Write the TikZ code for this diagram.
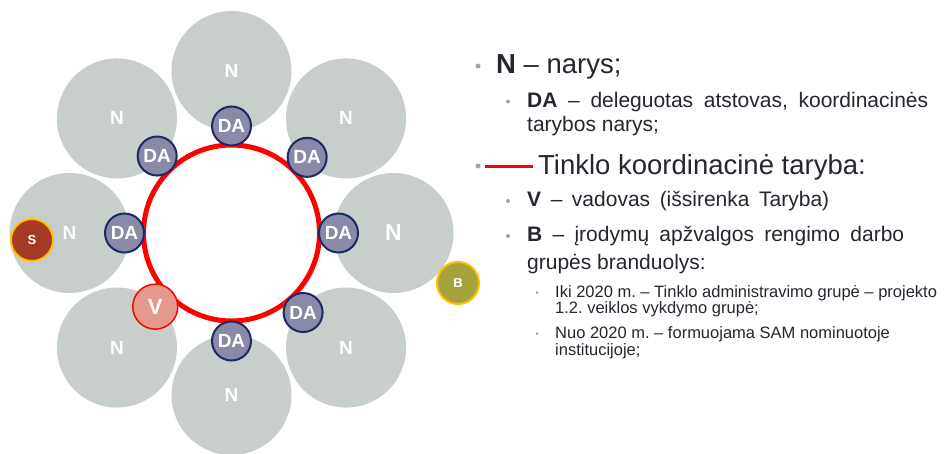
\documentclass[tikz,border=0pt]{standalone}
\usepackage{fontspec}
\setmainfont{Liberation Sans}
\frenchspacing
\definecolor{ngray}{RGB}{200,206,201}
\definecolor{dafill}{RGB}{138,138,168}
\definecolor{danavy}{RGB}{28,42,98}
\definecolor{vfill}{RGB}{227,154,140}
\definecolor{sfill}{RGB}{163,58,35}
\definecolor{bfill}{RGB}{166,163,60}
\definecolor{gold}{RGB}{255,192,0}
\definecolor{txt}{RGB}{38,38,48}
\definecolor{dotgray}{RGB}{155,168,155}
\begin{document}
\begin{tikzpicture}[x=1pt,y=1pt]
  \tikzstyle{member}=[circle,fill=ngray,minimum size=120pt,inner sep=0pt,text=white,font=\bfseries\fontsize{19}{19}\selectfont]
  \tikzstyle{delegate}=[circle,fill=dafill,draw=danavy,line width=2pt,minimum size=39pt,inner sep=0pt,text=white,font=\bfseries\fontsize{19}{19}\selectfont]
  \tikzstyle{leader}=[circle,fill=vfill,draw=red,line width=1.5pt,minimum size=45pt,inner sep=0pt,text=white,font=\bfseries\fontsize{22}{22}\selectfont]
  \tikzstyle{core}=[circle,draw=gold,line width=2pt,minimum size=42pt,inner sep=0pt,text=white,font=\bfseries\fontsize{13}{13}\selectfont]
  \tikzstyle{head}=[anchor=base west,inner sep=0pt,text=txt,font=\fontsize{27.5}{33}\selectfont]
  \tikzstyle{sub}=[anchor=base west,inner sep=0pt,text=txt,font=\fontsize{21}{25}\selectfont]
  \tikzstyle{subsub}=[anchor=base west,inner sep=0pt,text=txt,font=\fontsize{16.5}{19}\selectfont]
  \tikzstyle{dot}=[circle,fill=dotgray,inner sep=0pt]
  \path[use as bounding box,fill=white] (-231.5,-220) rectangle (713.5,233);
  % members
  \node[member] (NT)  at (90:162)  {N};
  \node[member] (NTR) at (45:162)  {N};
  \node[member] (NR)  at (0:162)   {\fontsize{23}{23}\selectfont N};
  \node[member] (NBR) at (-45:162) {N};
  \node[member] (NB)  at (-90:162) {N};
  \node[member] (NBL) at (-135:162) {N};
  \node[member] (NL)  at (180:162) {N};
  \node[member] (NTL) at (135:162) {N};
  % council
  \node[circle,draw=red,line width=5pt,minimum size=176pt] (ring) at (0,0) {};
  \node[delegate] (DAT)  at (90:107)  {DA};
  \node[delegate] (DATR) at (45:107)  {DA};
  \node[delegate] (DAR)  at (0:107)   {DA};
  \node[delegate] (DABR) at (-48:107) {DA};
  \node[delegate] (DAB)  at (-90:108) {DA};
  \node[delegate] (DAL)  at (180:107) {DA};
  \node[delegate] (DATL) at (134:107) {DA};
  \node[leader] (V) at (-136:106) {V};
  % core groups
  \node[core,fill=sfill] (S) at (-199.5,-7) {S};
  \node[core,fill=bfill] (B) at (226.5,-50) {B};
  % legend
  \node[dot,minimum size=5pt] (dotN) at (246.5,167) {};
  \node[head] (narys) at (264.5,160) {\textbf{N} – narys;};
  \node[dot,minimum size=4pt] (dotDA) at (276.5,131.5) {};
  \node[sub] (deleg) at (295.5,126) {\makebox[401pt][s]{\textbf{DA} – deleguotas atstovas, koordinacinės}};
  \node[sub] (deleg2) at (295.5,102) {tarybos narys;};
  \node[dot,minimum size=5pt] (dotT) at (246.5,67) {};
  \coordinate (legA) at (253.5,66.5);
  \coordinate (legB) at (301.5,66.5);
  \draw[red,line width=3pt] (legA) -- (legB);
  \node[head] (taryba) at (306.5,59) {Tinklo koordinacinė taryba:};
  \node[dot,minimum size=4pt] (dotV) at (276.5,32) {};
  \node[sub] (vadovas) at (295.5,26.3) {\makebox[302pt][s]{\textbf{V} – vadovas (išsirenka Taryba)}};
  \node[dot,minimum size=4pt] (dotB) at (276.5,-3) {};
  \node[sub] (brand) at (295.5,-8.7) {\makebox[377pt][s]{\textbf{B} – įrodymų apžvalgos rengimo darbo}};
  \node[sub] (brand2) at (295.5,-36.3) {grupės branduolys:};
  \node[dot,minimum size=3pt] (dotIki) at (305.5,-59.7) {};
  \node[subsub] (iki) at (323.5,-64.3) {Iki 2020 m. – Tinklo administravimo grupė – projekto};
  \node[subsub] (iki2) at (323.5,-80) {1.2. veiklos vykdymo grupė;};
  \node[dot,minimum size=3pt] (dotNuo) at (305.5,-100.7) {};
  \node[subsub] (nuo) at (323.5,-105) {Nuo 2020 m. – formuojama SAM nominuotoje};
  \node[subsub] (nuo2) at (323.5,-122) {institucijoje;};
\end{tikzpicture}
\end{document}
